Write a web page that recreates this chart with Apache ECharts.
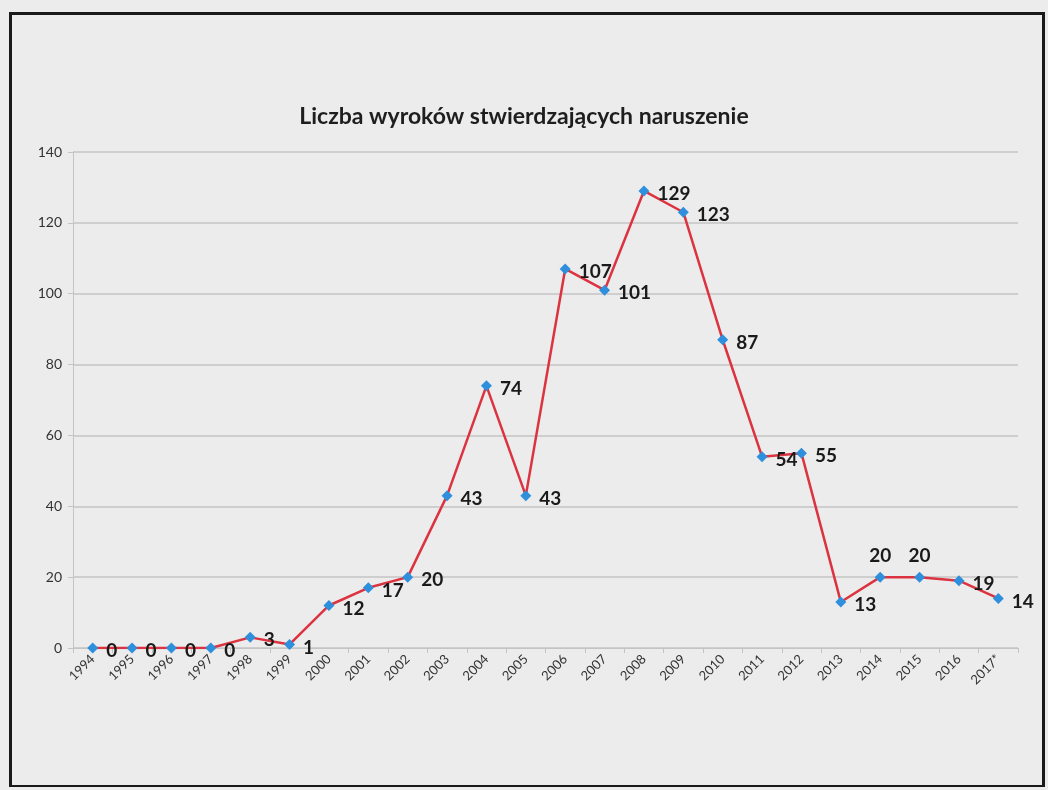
<!DOCTYPE html>
<html>
<head>
    <meta charset="utf-8">
    <title>Liczba wyroków stwierdzających naruszenie</title>
    <script src="https://cdn.jsdelivr.net/npm/echarts@6/dist/echarts.min.js"></script>
    <style>
        html, body { margin: 0; padding: 0; background: #ececec; }
        #frame {
            position: absolute; left: 9px; top: 12px;
            width: 1030px; height: 770px;
            border: 3px solid #1a1a1a; border-bottom-width: 2px;
        }
        #chart { position: absolute; left: 0; top: 0; width: 1048px; height: 790px; }
    </style>
</head>
<body>
<div id="frame"></div>
<div id="chart"></div>
<script type="text/javascript">
    // lata (2017 oznaczony gwiazdka)
    var years = ['1994', '1995', '1996', '1997', '1998', '1999', '2000', '2001', '2002', '2003',
        '2004', '2005', '2006', '2007', '2008', '2009', '2010', '2011', '2012', '2013',
        '2014', '2015', '2016', '2017*'];
    // liczba wyroków
    var judgments = [0, 0, 0, 0, 3, 1, 12, 17, 20, 43, 74, 43, 107, 101, 129, 123, 87, 54, 55, 13, 20, 20, 19, 14];
    var yTicks = [0, 20, 40, 60, 80, 100, 120, 140];

    // etykiety nad punktem zamiast po prawej
    var labelsAbove = ['2014', '2015'];

    var seriesData = judgments.map(function (v, i) {
        if (labelsAbove.indexOf(years[i]) >= 0) {
            return { value: v, label: { position: 'top', distance: 6, offset: [0, 0] } };
        }
        return v;
    });

    var myChart = echarts.init(document.getElementById('chart'));

    myChart.setOption({
        backgroundColor: 'transparent',
        title: {
            text: 'Liczba wyroków stwierdzających naruszenie',
            left: 'center',
            top: 100,
            textStyle: {
                fontFamily: 'Lato',
                fontSize: 23,
                fontWeight: 'bold',
                color: '#1e1e1e'
            }
        },
        grid: {
            left: 73,
            right: 30,
            top: 152,
            bottom: 142
        },
        xAxis: {
            type: 'category',
            data: years,
            boundaryGap: true,
            axisLine: { lineStyle: { color: '#c4c4c4', width: 1 } },
            axisTick: { show: true, alignWithLabel: false, length: 5, lineStyle: { color: '#c4c4c4' } },
            axisLabel: {
                interval: 0,
                rotate: 45,
                margin: 9,
                fontFamily: 'Lato',
                fontSize: 13,
                color: '#333'
            }
        },
        yAxis: {
            type: 'value',
            min: yTicks[0],
            max: yTicks[yTicks.length - 1],
            interval: 20,
            axisLine: { show: true, lineStyle: { color: '#c4c4c4' } },
            axisTick: { show: true, length: 5, lineStyle: { color: '#c4c4c4' } },
            splitLine: { lineStyle: { color: '#c4c4c4', width: 1.5 } },
            axisLabel: {
                margin: 11,
                fontFamily: 'Lato',
                fontSize: 14,
                color: '#333'
            }
        },
        series: [{
            name: 'Liczba wyroków',
            type: 'line',
            data: seriesData,
            symbol: 'diamond',
            symbolSize: 11,
            itemStyle: { color: '#2e8fdc' },
            lineStyle: { color: '#dc3340', width: 2.5 },
            label: {
                show: true,
                position: 'right',
                distance: 8,
                offset: [0, 3],
                fontFamily: 'Lato',
                fontSize: 19,
                fontWeight: 'bold',
                color: '#1a1a1a'
            },
            animation: false
        }]
    });
</script>
</body>
</html>
